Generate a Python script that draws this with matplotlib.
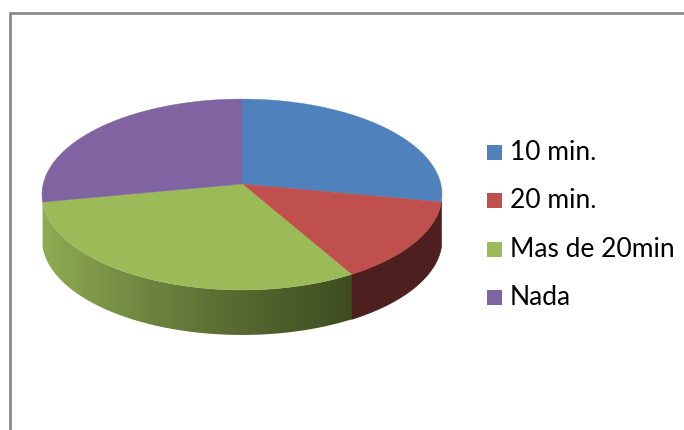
import numpy as np
import matplotlib
matplotlib.use("Agg")
import matplotlib.pyplot as plt
from matplotlib.colors import LinearSegmentedColormap
from matplotlib.patches import Polygon, Rectangle

categorias = ["10 min.", "20 min.", "Mas de 20min", "Nada"]
valores = [28, 13.7, 30.3, 28]
colores = ["#4F81BD", "#C0504D", "#9BBB59", "#8064A2"]

# geometria del pastel en pixeles (perspectiva simple)
CX, CY = 242, 184
A, B, P = 94.3, 198.8, 0.11
ALTO = 45


def punto(theta):
    t = -np.sin(theta)
    d = 1 - P * t
    return CX + B * np.cos(theta) / d, CY + A * t / d


def pared(a, b):
    xs, ys = punto(np.linspace(a, b, 200))
    arriba = list(zip(xs, ys))
    abajo = list(zip(xs[::-1], ys[::-1] + ALTO))
    return arriba + abajo


fig = plt.figure(figsize=(6.84, 4.30), dpi=100)
ax = fig.add_axes([0, 0, 1, 1])
ax.axis("off")

# marco gris (cortado a la derecha y abajo)
ax.plot([10, 10, 684], [430, 12.5, 12.5], color="#868686", lw=1.9, solid_joinstyle="miter")

total = sum(valores)
inicio = np.pi / 2
cortes = []
for v in valores:
    fin = inicio - 2 * np.pi * v / total
    cortes.append((inicio, fin))
    inicio = fin

# pared lateral: solo se ven el rojo y el verde
a, b = cortes[1]
ax.add_patch(Polygon(pared(a, b), closed=True, fc="#4D1F1E", ec="#4D1F1E", lw=0.5))

a, b = cortes[2]
lado = Polygon(pared(a, b), closed=True, fc="none", ec="none")
ax.add_patch(lado)
degradado = LinearSegmentedColormap.from_list("verde", ["#8FAB52", "#6E8540", "#55662F", "#3F4D20"])
img = ax.imshow(np.linspace(0, 1, 300).reshape(1, -1), cmap=degradado, aspect="auto",
                extent=(42, 352, 340, 200), interpolation="bilinear")
img.set_clip_path(lado)

# cara superior
for (a, b), col in zip(cortes, colores):
    xs, ys = punto(np.linspace(a, b, 200))
    pts = [(CX, CY)] + list(zip(xs, ys))
    ax.add_patch(Polygon(pts, closed=True, fc=col, ec=col, lw=0.3))

# leyenda
base_y = [160, 208, 257, 305]
for nombre, col, y in zip(categorias, colores, base_y):
    ax.add_patch(Rectangle((487, y - 15), 15, 15, fc=col, ec="none"))
    ax.text(510, y, nombre, fontsize=19, family="Lato", color="black", va="baseline", ha="left")

ax.set_xlim(0, 684)
ax.set_ylim(430, 0)
fig.savefig("out.png", dpi=100)
